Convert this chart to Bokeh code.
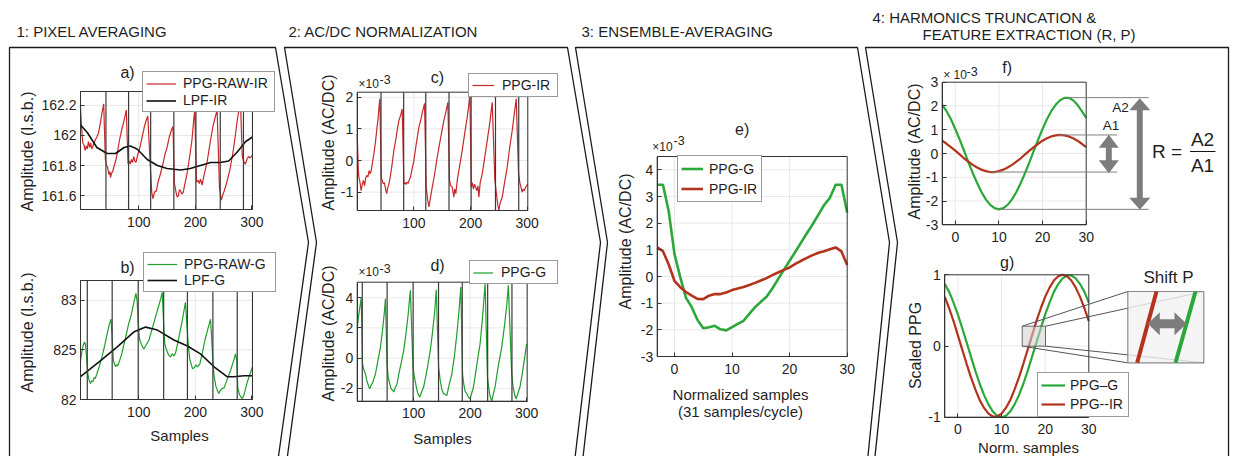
import math
from bokeh.plotting import figure
from bokeh.models import Range1d, LinearAxis, FixedTicker, Legend, LegendItem
from bokeh.core.properties import value
from bokeh.embed import file_html
from bokeh.resources import INLINE

# ---------------- data ----------------
A_RAW_X = [-3, -1, 1, 3, 5, 7, 9, 11, 13, 15, 17, 20, 23, 26, 29, 32, 35, 38, 41,
           43, 45, 47, 49, 50, 52, 54, 56, 59, 62, 66, 70, 74, 78, 81,
           83, 85, 87, 89, 91, 93, 95, 98, 102, 106, 110, 113, 116, 120,
           123, 125, 127, 129, 131, 134, 138, 142, 146, 150, 154, 158, 160.5, 163,
           166, 168, 170, 172, 174, 176, 178.5, 181, 185, 190, 194, 197, 199, 202,
           205, 207, 209, 212, 215, 218, 221, 226, 231, 235, 238.5, 242.5,
           244.5, 246, 248, 251, 255, 259, 262, 267, 271, 274, 277, 280, 283,
           286, 288.5, 291, 294, 297, 301]
A_RAW_Y = [162.19, 162.05, 161.95, 161.94, 161.90, 161.93, 161.91, 161.96, 161.92, 161.95, 161.91, 161.94, 161.97, 161.99, 162.02, 162.08, 162.15, 162.21, 161.84,
           161.80, 161.79, 161.74, 161.76, 161.72, 161.75, 161.76, 161.79, 161.83, 161.88, 161.97, 162.04, 162.10, 162.17, 161.81,
           161.83, 161.81, 161.84, 161.82, 161.86, 161.83, 161.82, 161.87, 161.92, 161.99, 162.06, 162.10, 162.13, 161.82,
           161.62, 161.58, 161.61, 161.63, 161.63, 161.69, 161.74, 161.80, 161.87, 161.92, 161.99, 162.04, 162.06, 161.68,
           161.62, 161.59, 161.60, 161.64, 161.63, 161.61, 161.62, 161.67, 161.74, 161.86, 161.97, 162.10, 162.17, 161.69,
           161.70, 161.68, 161.71, 161.67, 161.73, 161.78, 161.83, 161.95, 162.06, 162.12, 162.17, 161.66,
           161.60, 161.57, 161.60, 161.63, 161.68, 161.74, 161.79, 161.90, 162.01, 162.10, 162.17, 162.19, 161.86,
           161.82, 161.81, 161.84, 161.86, 161.85, 161.87]
A_LPF_X = [-3, 9, 26, 44, 59, 74, 85, 97, 115, 133, 150, 174, 191, 209, 227, 244, 259, 274, 289, 301]
A_LPF_Y = [162.07, 162.02, 161.92, 161.88, 161.88, 161.92, 161.93, 161.91, 161.84, 161.80,
           161.78, 161.77, 161.78, 161.80, 161.82, 161.82, 161.83, 161.89, 161.96, 161.99]
IR_BEATS = [42, 82, 121, 162, 201, 244, 285]

B_RAW_X = [-3, 0, 2, 4, 6, 8, 10, 12, 14.7, 17, 19, 21, 23, 26, 30, 35, 40, 44, 48, 51,
           53, 55, 57, 59, 61, 63, 66, 70, 74, 78, 82, 87, 91, 95, 97,
           99, 101, 103, 106, 109, 112, 115, 118, 122, 126, 130, 134, 138, 141.5,
           144, 146, 148, 151, 154, 156, 159, 162, 165, 169, 173, 177, 180, 182.5,
           185, 187.5, 190, 193, 195, 198, 201, 204, 208, 212, 217, 222, 226.8,
           229, 231, 233, 236, 239, 241.4, 244, 247, 251, 256, 262, 267, 271,
           273, 275, 278, 281, 283, 286, 291, 296, 301]
B_RAW_Y = [82.39, 82.50, 82.55, 82.58, 82.55, 82.40, 82.26, 82.20, 82.16, 82.19, 82.18, 82.22, 82.21, 82.26, 82.33, 82.43, 82.55, 82.66, 82.76, 82.81,
           82.60, 82.40, 82.36, 82.33, 82.35, 82.34, 82.39, 82.46, 82.56, 82.66, 82.76, 82.86, 82.97, 83.07, 83.00,
           82.78, 82.62, 82.58, 82.54, 82.51, 82.54, 82.57, 82.60, 82.68, 82.76, 82.84, 82.92, 83.00, 83.08,
           82.75, 82.56, 82.52, 82.47, 82.44, 82.43, 82.46, 82.44, 82.47, 82.57, 82.69, 82.80, 82.90, 82.98,
           82.75, 82.55, 82.41, 82.35, 82.31, 82.32, 82.35, 82.33, 82.36, 82.46, 82.60, 82.71, 82.81,
           82.60, 82.38, 82.24, 82.14, 82.09, 82.06, 82.09, 82.11, 82.12, 82.20, 82.29, 82.38, 82.46,
           82.40, 82.12, 82.05, 82.02, 82.01, 82.05, 82.16, 82.25, 82.33]
B_LPF_X = [-3, 32, 62, 91, 112, 133, 162, 186, 209, 233, 256, 268, 286, 301]
B_LPF_Y = [82.23, 82.39, 82.53, 82.68, 82.73, 82.70, 82.60, 82.54, 82.46, 82.33, 82.23, 82.23, 82.24, 82.24]
G_BEATS = [9, 53, 99, 144, 186, 231, 274]

C_X = [0, 2, 3, 5, 7, 9, 11, 13, 15, 17, 19, 21, 23, 25, 27, 29.4, 32, 35, 37, 39, 40,
       42.4, 44, 46, 48, 50, 52, 54, 56, 58, 61, 64.7, 68, 71, 73.5, 77, 79.4,
       82.4, 84, 86, 88, 90, 92, 94, 97, 100, 104, 108.8, 113, 116, 118.8,
       121.8, 124, 126.5, 129, 132.4, 136, 141.2, 146, 152.9, 156, 160,
       162.9, 165, 167.6, 169, 170.6, 172, 174, 176.5, 180, 185.3, 190, 194.1, 196.5, 198.8,
       201.2, 203, 205, 207, 208.8, 211, 213, 214.7, 217, 220.6, 225, 229.4, 234, 238.2,
       242.9, 246, 248, 250, 252, 255.9, 260, 264.7, 269, 273.5, 277, 280.6,
       284.7, 287, 289, 291.2, 293, 295, 297.1, 299, 301]
C_Y = [0.84, -0.30, -0.53, -0.70, -0.95, -0.75, -0.63, -0.80, -0.55, -0.47, -0.52, -0.32, -0.42, -0.30, -0.05, 0.21, 0.55, 1.05, 1.35, 1.80, 1.95,
       -0.53, -0.62, -0.74, -0.70, -0.90, -1.05, -0.85, -0.74, -0.55, -0.20, 0.32, 0.65, 1.00, 1.26, 1.45, 1.63,
       -0.74, -0.70, -0.76, -0.68, -0.72, -0.60, -0.53, -0.25, 0.00, 0.50, 1.05, 1.35, 1.60, 1.81,
       -0.84, -1.20, -1.47, -1.20, -0.84, -0.50, 0.11, 0.60, 1.26, 1.50, 1.84,
       -0.63, -0.80, -0.84, -1.00, -1.16, -0.90, -1.05, -0.63, -0.25, 0.32, 0.90, 1.37, 1.70, 2.10,
       -0.84, -0.70, -0.90, -0.75, -0.84, -0.95, -0.80, -1.16, -0.70, -0.42, 0.10, 0.63, 1.20, 1.84,
       -0.63, -1.10, -1.40, -1.58, -1.35, -1.16, -0.70, -0.21, 0.40, 0.95, 1.45, 1.95,
       -0.42, -0.70, -0.85, -1.00, -0.90, -0.95, -0.84, -0.80, -0.74]

D_X = [0, 2.5, 4.7, 7.1, 9.4, 12, 14.7, 17, 18.8, 20.5, 22.4, 24.5, 26.5, 29, 32.4, 36, 41.2, 45, 48, 50,
       52.9, 55, 57.6, 60, 62, 64.7, 67, 70.6, 74, 78, 82.4, 86, 90, 94.1,
       98.8, 101, 104.7, 107, 110.6, 113, 117.6, 121, 125, 129.4, 133, 137, 140,
       144.1, 147, 150, 152.9, 155, 158.8, 162, 167.6, 172, 176.5, 180, 183.5,
       186.5, 189, 191, 194.1, 197, 200, 203, 205.9, 210, 214, 217.6, 221, 224, 226.5,
       230.6, 233, 235, 238.2, 241, 244.1, 249, 255.9, 261, 265, 267.6,
       273.5, 276, 278.5, 281.2, 284, 288.2, 292, 296, 300]
D_Y = [1.94, 2.80, 3.38, 4.00, -0.38, -0.80, -1.04, -1.50, -1.70, -1.90, -2.03, -1.80, -1.70, -1.45, -1.04, -0.30, 0.73, 1.90, 3.00, 3.93,
       -0.38, -1.30, -1.70, -2.05, -2.10, -2.25, -2.00, -1.70, -1.00, -0.30, 0.51, 1.50, 2.80, 4.49,
       -0.60, -1.20, -1.92, -2.30, -2.59, -2.35, -1.92, -1.30, -0.50, 0.51, 1.60, 3.00, 4.53,
       -0.60, -1.50, -2.10, -2.36, -2.40, -2.48, -1.90, -1.04, 0.10, 1.61, 3.00, 4.71,
       -1.04, -1.80, -2.20, -2.36, -2.60, -2.70, -2.30, -1.92, -0.90, 0.10, 0.95, 2.30, 3.70, 4.93,
       -1.26, -2.00, -2.50, -2.85, -2.40, -1.92, -0.70, 0.73, 2.20, 3.60, 4.82,
       -1.04, -1.90, -2.40, -2.70, -2.40, -1.92, -1.10, -0.10, 0.95]

NORM_X = [-3, -2, -1, 0, 1, 2, 3, 4, 5, 6, 7, 8, 9, 10, 11, 12, 13, 14, 15, 16,
          17, 18, 19, 20, 21, 22, 23, 24, 25, 26, 27, 28, 29, 30]
E_G = [3.44, 3.44, 2.45, 0.84, -0.02, -0.80, -1.15, -1.63, -1.94, -1.90, -1.85, -1.98, -2.02, -1.90, -1.78, -1.66, -1.40,
       -1.15, -0.95, -0.76, -0.45, -0.10, 0.25, 0.59, 0.93, 1.28, 1.62, 1.96, 2.32, 2.68, 2.95, 3.44, 3.44, 2.40]
E_IR = [1.09, 0.95, 0.45, -0.16, -0.40, -0.58, -0.72, -0.84, -0.85, -0.72, -0.66, -0.66, -0.60, -0.51, -0.45, -0.39, -0.32,
        -0.24, -0.15, -0.06, 0.05, 0.15, 0.25, 0.34, 0.47, 0.59, 0.70, 0.80, 0.89, 0.95, 1.02, 1.09, 0.94, 0.43]
F_G = [2.05, 1.78, 1.44, 1.03, 0.59, 0.12, -0.36, -0.82, -1.24, -1.62, -1.93, -2.16, -2.30, -2.35, -2.30, -2.16, -1.93,
       -1.62, -1.24, -0.82, -0.36, 0.12, 0.59, 1.03, 1.44, 1.78, 2.05, 2.24, 2.34, 2.34, 2.24, 2.05, 1.78, 1.50]
F_IR = [0.54, 0.41, 0.27, 0.12, -0.04, -0.20, -0.34, -0.48, -0.59, -0.68, -0.74, -0.78, -0.78, -0.74, -0.68, -0.59, -0.48,
        -0.34, -0.20, -0.04, 0.12, 0.27, 0.41, 0.54, 0.64, 0.72, 0.76, 0.78, 0.76, 0.72, 0.64, 0.54, 0.41, 0.27]
G_G = [0.87, 0.76, 0.61, 0.44, 0.25, 0.05, -0.15, -0.35, -0.53, -0.69, -0.82, -0.92, -0.98, -1.00, -0.98, -0.92, -0.82,
       -0.69, -0.53, -0.35, -0.15, 0.05, 0.25, 0.44, 0.61, 0.76, 0.87, 0.95, 0.99, 0.99, 0.95, 0.87, 0.76, 0.61]
G_IR = [0.69, 0.53, 0.35, 0.15, -0.05, -0.25, -0.44, -0.61, -0.76, -0.87, -0.95, -0.99, -0.99, -0.95, -0.87, -0.76, -0.61,
        -0.44, -0.25, -0.05, 0.15, 0.35, 0.53, 0.69, 0.82, 0.92, 0.98, 1.00, 0.98, 0.92, 0.82, 0.69, 0.53, 0.35]

# tick values and labels
SAMP_TICKS = [100, 200, 300]
SAMP_LABELS = ["100", "200", "300"]
NORM_TICKS = [0, 10, 20, 30]
NORM_LABELS = ["0", "10", "20", "30"]
A_YTICKS = [161.6, 161.8, 162.0, 162.2]
A_YLABELS = ["161.6", "161.8", "162", "162.2"]
B_YTICKS = [82.0, 82.5, 83.0]
B_YLABELS = ["82", "825", "83"]
C_YTICKS = [-1, 0, 1, 2]
C_YLABELS = ["-1", "0", "1", "2"]
D_YTICKS = [-2, 0, 2, 4]
D_YLABELS = ["-2", "0", "2", "4"]
E_YTICKS = [-3, -2, -1, 0, 1, 2, 3, 4]
E_YLABELS = ["-3", "-2", "-1", "0", "1", "2", "3", "4"]
F_YTICKS = [-3, -2, -1, 0, 1, 2, 3]
F_YLABELS = ["-3", "-2", "-1", "0", "1", "2", "3"]
G_YTICKS = [-1, 0, 1]
G_YLABELS = ["-1", "0", "1"]

# ---------------- styling / layout ----------------
FONT = "Liberation Sans"
TXT = "#1f1f1f"
AXC = "#333333"
GRID = "#e8e8e8"
RED = "#c8282a"
GREEN = "#1f9e2c"
RED_E = "#b3331c"
GREEN_E = "#2ca83a"
GRAY = "#808080"

W, H = 1233, 456
FX0, FX1 = 0, 1233      # page x covered by the plot frame
FY0, FY1 = 0, 456       # page y covered by the plot frame

p = figure(width=W, height=H, output_backend="svg", toolbar_location=None,
           x_range=Range1d(FX0, FX1), y_range=Range1d(FY1, FY0),
           x_axis_type=None, y_axis_type=None, min_border=0,
           outline_line_color=None)
p.min_border_left = p.min_border_right = p.min_border_top = p.min_border_bottom = 0
p.background_fill_color = "white"
p.border_fill_color = "white"

# ---------- stage panels (chevrons) ----------
PANELS = [
    [(9, 47), (275, 47), (308, 242), (276, 470), (9, 470)],
    [(284, 47), (567, 47), (600, 242), (573, 470), (285, 470), (316, 242)],
    [(575, 47), (857, 47), (889, 242), (866, 470), (581, 470), (607, 242)],
    [(865, 47), (1228, 47), (1228, 470), (873, 470), (897, 242)],
]
for poly in PANELS:
    p.patch([q[0] for q in poly], [q[1] for q in poly], fill_color="white",
            line_color="#1a1a1a", line_width=1.3)

# ---------- helpers ----------
def subplot(name, xlim, ylim, box, xticks, yticks):
    L, T, R, B = box
    sx = (xlim[1] - xlim[0]) / (R - L)
    sy = (ylim[1] - ylim[0]) / (B - T)
    p.extra_x_ranges[name] = Range1d(xlim[0] - (L - FX0) * sx, xlim[1] + (FX1 - R) * sx)
    p.extra_y_ranges[name] = Range1d(ylim[0] - (FY1 - B) * sy, ylim[1] + (T - FY0) * sy)
    kw = dict(x_range_name=name, y_range_name=name)
    gx = [t for t in xticks if xlim[0] < t < xlim[1]]
    gy = [t for t in yticks if ylim[0] < t < ylim[1]]
    if gx:
        p.segment(x0=gx, y0=[ylim[0]] * len(gx), x1=gx, y1=[ylim[1]] * len(gx),
                  line_color=GRID, line_width=1, **kw)
    if gy:
        p.segment(x0=[xlim[0]] * len(gy), y0=gy, x1=[xlim[1]] * len(gy), y1=gy,
                  line_color=GRID, line_width=1, **kw)
    return kw


def finish(name, xlim, ylim, xticks, xlabels, yticks, ylabels):
    kw = dict(x_range_name=name, y_range_name=name)
    p.quad(left=[xlim[0]], right=[xlim[1]], bottom=[ylim[0]], top=[ylim[1]],
           fill_color=None, line_color=AXC, line_width=1, **kw)
    xa = LinearAxis(fixed_location=ylim[0], bounds=tuple(xlim),
                    ticker=FixedTicker(ticks=xticks, minor_ticks=[]),
                    major_label_overrides={t: l for t, l in zip(xticks, xlabels)}, **kw)
    ya = LinearAxis(fixed_location=xlim[0], bounds=tuple(ylim),
                    ticker=FixedTicker(ticks=yticks, minor_ticks=[]),
                    major_label_overrides={t: l for t, l in zip(yticks, ylabels)}, **kw)
    for ax in (xa, ya):
        ax.axis_line_color = AXC
        ax.major_tick_line_color = AXC
        ax.major_tick_in = 4
        ax.major_tick_out = 0
        ax.minor_tick_line_color = None
        ax.major_label_text_font = FONT
        ax.major_label_text_font_size = "14px"
        ax.major_label_text_color = TXT
    xa.major_label_standoff = 7
    ya.major_label_standoff = 4
    p.add_layout(xa, "below")
    p.add_layout(ya, "left")


def legend(items, L, T, R, B, glyph_w, standoff, row_h, spacing):
    pad = 3
    lab_w = int(round((R - L) - 2 * pad - glyph_w - standoff))
    leg = Legend(items=[LegendItem(label=lb, renderers=[r]) for lb, r in items],
                 location=(int(round(L - FX0)), int(round(FY1 - B))), padding=pad, spacing=spacing,
                 glyph_width=glyph_w, glyph_height=row_h, label_height=row_h,
                 label_width=lab_w, label_standoff=standoff, margin=0,
                 border_line_color=AXC, border_line_width=1,
                 background_fill_color="white", background_fill_alpha=1,
                 label_text_font=FONT, label_text_font_size="14px",
                 label_text_color=TXT)
    p.add_layout(leg, "center")


def beats(kw, xs, ylim):
    p.segment(x0=xs, y0=[ylim[0]] * len(xs), x1=xs, y1=[ylim[1]] * len(xs),
              line_color="#3a3a3a", line_width=1.2, **kw)

# ---------- a) ----------
xl, yl = (-3, 301), (161.507, 162.293)
kw = subplot("a", xl, yl, (80, 91, 252, 209), SAMP_TICKS, A_YTICKS)
ra = p.line(A_RAW_X, A_RAW_Y, line_color=RED, line_width=1.2, **kw)
la = p.line(A_LPF_X, A_LPF_Y, line_color="#111111", line_width=1.6, **kw)
beats(kw, IR_BEATS, yl)
finish("a", xl, yl, SAMP_TICKS, SAMP_LABELS, A_YTICKS, A_YLABELS)
legend([("PPG-RAW-IR", ra), ("LPF-IR", la)], 142, 75, 273, 112, 30, 7, 15, 1)

# ---------- b) ----------
xl, yl = (-3, 301), (82.0, 83.2)
kw = subplot("b", xl, yl, (80, 280, 252, 399), SAMP_TICKS, B_YTICKS)
rb = p.line(B_RAW_X, B_RAW_Y, line_color=GREEN, line_width=1.2, **kw)
lb = p.line(B_LPF_X, B_LPF_Y, line_color="#111111", line_width=1.6, **kw)
beats(kw, G_BEATS, yl)
finish("b", xl, yl, SAMP_TICKS, SAMP_LABELS, B_YTICKS, B_YLABELS)
legend([("PPG-RAW-G", rb), ("LPF-G", lb)], 143, 254, 274, 292, 30, 7, 16, 0)

# ---------- c) ----------
xl, yl = (0, 301), (-1.58, 2.16)
kw = subplot("c", xl, yl, (356.7, 91.7, 527.3, 210), SAMP_TICKS, C_YTICKS)
rc = p.line(C_X, C_Y, line_color=RED, line_width=1.2, **kw)
beats(kw, IR_BEATS, yl)
finish("c", xl, yl, SAMP_TICKS, SAMP_LABELS, C_YTICKS, C_YLABELS)
legend([("PPG-IR", rc)], 468, 74, 556, 97, 22, 8, 16, 0)

# ---------- d) ----------
xl, yl = (0, 301), (-2.86, 5.03)
kw = subplot("d", xl, yl, (356.7, 281.7, 526.7, 400.7), SAMP_TICKS, D_YTICKS)
rd = p.line(D_X, D_Y, line_color=GREEN, line_width=1.2, **kw)
beats(kw, G_BEATS, yl)
finish("d", xl, yl, SAMP_TICKS, SAMP_LABELS, D_YTICKS, D_YLABELS)
legend([("PPG-G", rd)], 469, 263, 556, 284, 20, 8, 15, 0)

# ---------- e) ----------
xl, yl = (-3, 30), (-3, 4.5)
kw = subplot("e", xl, yl, (656.7, 156, 846.7, 356), NORM_TICKS, E_YTICKS)
eg = p.line(NORM_X, E_G, line_color=GREEN_E, line_width=2.6, **kw)
er = p.line(NORM_X, E_IR, line_color=RED_E, line_width=2.6, **kw)
finish("e", xl, yl, NORM_TICKS, NORM_LABELS, E_YTICKS, E_YLABELS)
legend([("PPG-G", eg), ("PPG-IR", er)], 677, 157, 760, 202, 22, 6, 19, 1)

# ---------- f) ----------
xl, yl = (-3, 30), (-3, 3)
kw = subplot("f", xl, yl, (941.7, 81.7, 1085.7, 224.3), NORM_TICKS, F_YTICKS)
p.line(NORM_X, F_G, line_color=GREEN_E, line_width=2.2, **kw)
p.line(NORM_X, F_IR, line_color=RED_E, line_width=2.2, **kw)
finish("f", xl, yl, NORM_TICKS, NORM_LABELS, F_YTICKS, F_YLABELS)
# amplitude reference lines (from the extrema of the curves)
p.segment(x0=[25.5, 23.5, 8.0, 10.0], x1=[44.3, 37.1, 37.1, 44.3],
          y0=[2.35, 0.78, -0.78, -2.35], y1=[2.35, 0.78, -0.78, -2.35],
          line_color=GRAY, line_width=1, **kw)

# ---------- g) ----------
xl, yl = (-3, 30), (-1, 1)
kw = subplot("g", xl, yl, (944.3, 274.3, 1088.3, 416.7), NORM_TICKS, G_YTICKS)
gg = p.line(NORM_X, G_G, line_color=GREEN_E, line_width=2.2, **kw)
gr = p.line(NORM_X, G_IR, line_color=RED_E, line_width=2.2, **kw)
finish("g", xl, yl, NORM_TICKS, NORM_LABELS, G_YTICKS, G_YLABELS)
legend([("PPG\u2013G", gg), ("PPG--IR", gr)], 1037, 373, 1127, 417, 24, 5, 18, 1)

# zoom inset (page coordinates)
SR = (1021.7, 325.7, 1045, 345.7)
BR = (1127.3, 291, 1203.3, 362.3)
p.segment(x0=[SR[0], SR[2], SR[0], SR[2]], y0=[SR[1], SR[1], SR[3], SR[3]],
          x1=[BR[0], BR[2], BR[0], BR[2]], y1=[BR[1], BR[1], BR[3], BR[3]],
          line_color="#555555", line_width=1)
p.quad(left=[SR[0]], right=[SR[2]], top=[SR[1]], bottom=[SR[3]],
       fill_color="#d0d0d0", fill_alpha=0.55, line_color="#666666", line_width=1)
p.quad(left=[BR[0]], right=[BR[2]], top=[BR[1]], bottom=[BR[3]],
       fill_color="#f2f2f2", fill_alpha=0.8, line_color="#8a8a8a", line_width=1.2)
p.segment(x0=[1156], y0=[291], x1=[1136.7], y1=[362.3], line_color=RED_E, line_width=4)
p.segment(x0=[1195], y0=[291], x1=[1175], y1=[362.3], line_color=GREEN_E, line_width=4)


def double_arrow(x0, y0, x1, y1, shaft, head_w, head_l):
    dx, dy = x1 - x0, y1 - y0
    n = math.hypot(dx, dy)
    ux, uy = dx / n, dy / n
    px, py = -uy, ux
    seq = [(0, 0), (head_l, head_w / 2), (head_l, shaft / 2), (n - head_l, shaft / 2),
           (n - head_l, head_w / 2), (n, 0), (n - head_l, -head_w / 2),
           (n - head_l, -shaft / 2), (head_l, -shaft / 2), (head_l, -head_w / 2)]
    xs = [x0 + ux * t + px * s for t, s in seq]
    ys = [y0 + uy * t + py * s for t, s in seq]
    p.patch(xs, ys, fill_color="#7d7d7d", line_color=None)


double_arrow(1139.3, 97.7, 1139.3, 209.3, 6, 21, 12)
double_arrow(1108.3, 134.3, 1108.3, 172.7, 6, 20, 13)
double_arrow(1147.3, 323.3, 1186, 323.3, 9, 23, 12)
p.segment(x0=[1189.5], y0=[151], x1=[1215], y1=[151], line_color="#111111", line_width=1)

# ---------- texts (page coordinates) ----------
def texts(items, size, align="left", angle=0.0, color=TXT):
    p.text(x=[t[1] for t in items], y=[t[2] for t in items], text=[t[0] for t in items],
           text_font=value(FONT), text_font_size=size, text_align=align,
           text_baseline="middle", angle=angle, text_color=color)


texts([("1: PIXEL AVERAGING", 16, 31), ("2: AC/DC NORMALIZATION", 288, 31),
       ("3: ENSEMBLE-AVERAGING", 581, 31), ("4: HARMONICS TRUNCATION &", 872, 16.5),
       ("FEATURE EXTRACTION (R, P)", 922, 33.5)], "15px")
texts([("a)", 127, 72), ("b)", 127, 267), ("c)", 437, 77), ("d)", 437, 265),
       ("e)", 741.7, 129), ("f)", 1006.7, 66.7), ("g)", 1006.7, 261.7)], "16px", "center")
texts([("Amplitude (l.s.b.)", 27, 151), ("Amplitude (l.s.b.)", 27, 332),
       ("Amplitude (AC/DC)", 327.7, 142), ("Amplitude (AC/DC)", 327.7, 333),
       ("Amplitude (AC/DC)", 625, 241), ("Amplitude (AC/DC)", 913.5, 151),
       ("Scaled PPG", 915, 345)], "16px", "center", math.pi / 2)
texts([("Samples", 179, 435), ("Samples", 442, 438), ("Normalized samples", 740, 394),
       ("(31 samples/cycle)", 740, 411), ("Norm. samples", 1028, 447)], "15px", "center")
texts([("\u00d710", 358, 83.3), ("\u00d710", 358, 271.7), ("\u00d710", 651.7, 146),
       ("\u00d7 10", 942.7, 74)], "12px")
texts([("-3", 379, 79.3), ("-3", 379, 268.3), ("-3", 673, 139.5), ("-3", 966, 70.7)], "12.5px")
texts([("A2", 1120, 106.7), ("A1", 1110.5, 125)], "13.5px", "center")
texts([("R =", 1166.5, 151), ("A2", 1202, 138.5), ("A1", 1202, 165)], "19px", "center")
texts([("Shift P", 1168, 276.5)], "17px", "center")

open("out.html", "w").write(file_html(p, INLINE))
